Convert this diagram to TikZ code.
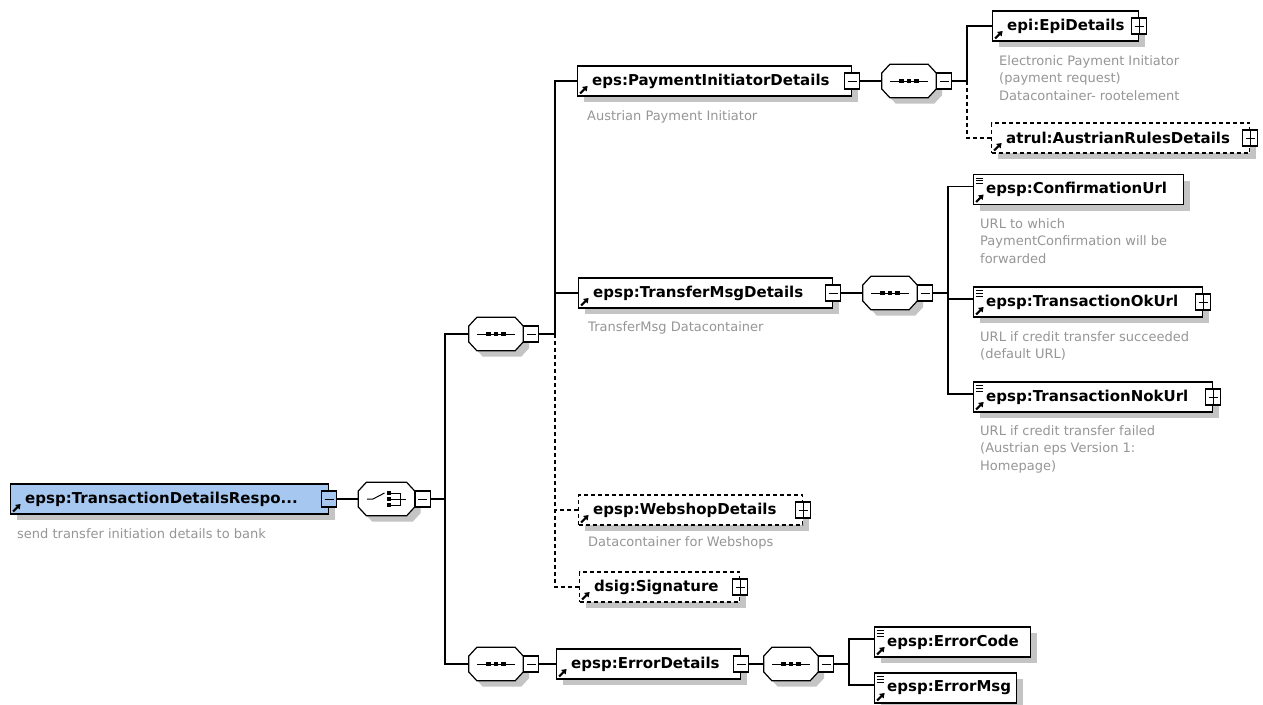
\documentclass[tikz,border=0pt]{standalone}
\usepackage{fontspec}
\setmainfont{DejaVu Sans}
\usetikzlibrary{shadows,arrows.meta}

\definecolor{rootblue}{RGB}{166,200,240}
\definecolor{shadowc}{RGB}{196,196,196}
\definecolor{desctext}{RGB}{150,150,150}

% small icons drawn inside element boxes
\newcommand\refglyph{\draw[solid, line width=2pt, -{Triangle[length=4.5pt,width=6pt]}]
  ([shift={(2.5pt,2.5pt)}]path picture bounding box.south west) -- ++(7.5pt,7.5pt);}
\newcommand\simpleglyph{\draw[solid, line width=0.9pt]
  ([shift={(2pt,-3.5pt)}]path picture bounding box.north west) -- ++(7pt,0pt)
  ++(-7pt,-2.8pt) -- ++(7pt,0pt) ++(-7pt,-2.8pt) -- ++(7pt,0pt);}

% compositor outline and glyphs
\newcommand\octpath[1]{([xshift=8pt]#1.north west) -- ([xshift=-8pt]#1.north east)
  -- ([yshift=8pt]#1.east) -- ([yshift=-8pt]#1.east) -- ([xshift=-8pt]#1.south east)
  -- ([xshift=8pt]#1.south west) -- ([yshift=-8pt]#1.west) -- ([yshift=8pt]#1.west) -- cycle}
\newcommand\octagon[1]{%
  \begin{scope}[transform canvas={shift={(6pt,-6pt)}}]
    \fill[shadowc] \octpath{#1};
  \end{scope}
  \draw[line width=1.2pt, fill=white] \octpath{#1};}
\newcommand\seqglyph[1]{%
  \draw[line width=1pt] ([xshift=-19pt]#1.center) -- ([xshift=19pt]#1.center);
  \foreach \dx in {-7.5,0,7.5}
    \fill ([xshift=\dx pt]#1.center) +(-2.3pt,-2.3pt) rectangle +(2.3pt,2.3pt);}
\newcommand\choiceglyph[1]{%
  \draw[line width=1pt] ([xshift=-19.5pt]#1.center) -- ([xshift=-13.5pt]#1.center)
    -- ([shift={(-2pt,6pt)}]#1.center);
  \foreach \dy in {-6,0,6} {
    \fill ([shift={(2.7pt,\dy pt)}]#1.center) +(-1.9pt,-1.9pt) rectangle +(1.9pt,1.9pt);
    \draw[line width=1pt] ([shift={(4.5pt,\dy pt)}]#1.center) -- ([shift={(13.5pt,\dy pt)}]#1.center);}
  \draw[line width=1pt] ([shift={(13.5pt,-6.5pt)}]#1.center) -- ([shift={(13.5pt,6.5pt)}]#1.center);
  \draw[line width=1pt] ([xshift=13.5pt]#1.center) -- ([xshift=19.5pt]#1.center);}

\tikzset{
  shade6/.style={drop shadow={shadow xshift=6pt, shadow yshift=-6pt, opacity=1, fill=shadowc}},
  elem/.style={draw=black, line width=1.2pt, fill=white, minimum height=30pt,
    inner sep=0pt, anchor=west, shade6, path picture={\refglyph}},
  rootelem/.style={elem, fill=rootblue},
  optelem/.style={elem, dash pattern=on 4pt off 3pt},
  simpleelem/.style={elem, path picture={\refglyph\simpleglyph}},
  comp/.style={rectangle, draw=none, minimum width=54pt, minimum height=33pt, inner sep=0pt},
  pm/.style={draw=black, line width=1.1pt, fill=white, minimum width=15pt,
    minimum height=16pt, inner sep=0pt},
  minusbox/.style={pm, path picture={\draw[line width=1pt]
    ([xshift=-4.5pt]path picture bounding box.center) -- ([xshift=4.5pt]path picture bounding box.center);}},
  plusbox/.style={pm, path picture={\draw[line width=1pt]
    ([xshift=-4.5pt]path picture bounding box.center) -- ([xshift=4.5pt]path picture bounding box.center)
    (path picture bounding box.north) -- (path picture bounding box.south);}},
  lbl/.style={font=\bfseries\fontsize{15}{18}\selectfont, inner sep=0pt, anchor=west},
  desc/.style={font=\fontsize{13}{17.5}\selectfont, text=desctext, inner sep=0pt,
    anchor=west, align=left},
  conn/.style={draw=black, line width=1.2pt},
  optconn/.style={conn, dash pattern=on 4pt off 3pt},
}

\begin{document}
\begin{tikzpicture}[x=1pt,y=-1pt]
\useasboundingbox (0,0) rectangle (1263,704);
\fill[white] (0,0) rectangle (1263,704);

% element boxes
\node[rootelem, minimum width=318pt] (root) at (10,499) {};
\node[elem, minimum width=274pt] (pid) at (577,81) {};
\node[elem, minimum width=146pt] (epi) at (992,26) {};
\node[optelem, minimum width=258pt] (atrul) at (991,138) {};
\node[elem, minimum width=254pt] (tmsg) at (578,293) {};
\node[simpleelem, minimum width=210pt] (conf) at (973,189.5) {};
\node[simpleelem, minimum width=229pt] (okurl) at (973,302) {};
\node[simpleelem, minimum width=239pt] (nokurl) at (973,397) {};
\node[optelem, minimum width=224pt] (web) at (578,510) {};
\node[optelem, minimum width=160pt] (sig) at (579,587) {};
\node[elem, minimum width=184pt] (err) at (556,664) {};
\node[simpleelem, minimum width=156pt] (ecode) at (874,642) {};
\node[simpleelem, minimum width=142pt] (emsg) at (874,688) {};

% compositors
\node[comp, minimum width=56pt] (ch) at (386.5,499) {};
\node[comp] (s1) at (496,334) {};
\node[comp] (s3) at (909,81) {};
\node[comp] (s4) at (890,293) {};
\node[comp] (s2) at (496,664) {};
\node[comp] (s5) at (791,664) {};
\octagon{ch} \octagon{s1} \octagon{s3} \octagon{s4} \octagon{s2} \octagon{s5}
\choiceglyph{ch}
\seqglyph{s1} \seqglyph{s3} \seqglyph{s4} \seqglyph{s2} \seqglyph{s5}

% expand / collapse boxes
\node[minusbox, fill=rootblue] (root-m) at (root.east) {};
\node[minusbox] (pid-m) at (pid.east) {};
\node[plusbox] (epi-m) at (epi.east) {};
\node[plusbox] (atrul-m) at (atrul.east) {};
\node[minusbox] (tmsg-m) at (tmsg.east) {};
\node[plusbox] (okurl-m) at (okurl.east) {};
\node[plusbox] (nokurl-m) at (nokurl.east) {};
\node[plusbox] (web-m) at (web.east) {};
\node[plusbox] (sig-m) at (sig.east) {};
\node[minusbox] (err-m) at (err.east) {};
\node[minusbox, anchor=west] (ch-m) at (ch.east) {};
\node[minusbox, anchor=west] (s1-m) at (s1.east) {};
\node[minusbox, anchor=west] (s3-m) at (s3.east) {};
\node[minusbox, anchor=west] (s4-m) at (s4.east) {};
\node[minusbox, anchor=west] (s2-m) at (s2.east) {};
\node[minusbox, anchor=west] (s5-m) at (s5.east) {};

% element names
\node[lbl] (root-t) at ([xshift=15pt]root.west) {epsp:TransactionDetailsRespo...};
\node[lbl] (pid-t) at ([xshift=15pt]pid.west) {eps:PaymentInitiatorDetails};
\node[lbl] (epi-t) at ([xshift=15pt]epi.west) {epi:EpiDetails};
\node[lbl] (atrul-t) at ([xshift=15pt]atrul.west) {atrul:AustrianRulesDetails};
\node[lbl] (tmsg-t) at ([xshift=15pt]tmsg.west) {epsp:TransferMsgDetails};
\node[lbl] (conf-t) at ([xshift=13pt]conf.west) {epsp:ConfirmationUrl};
\node[lbl] (okurl-t) at ([xshift=13pt]okurl.west) {epsp:TransactionOkUrl};
\node[lbl] (nokurl-t) at ([xshift=13pt]nokurl.west) {epsp:TransactionNokUrl};
\node[lbl] (web-t) at ([xshift=15pt]web.west) {epsp:WebshopDetails};
\node[lbl] (sig-t) at ([xshift=15pt]sig.west) {dsig:Signature};
\node[lbl] (err-t) at ([xshift=15pt]err.west) {epsp:ErrorDetails};
\node[lbl] (ecode-t) at ([xshift=13pt]ecode.west) {epsp:ErrorCode};
\node[lbl] (emsg-t) at ([xshift=13pt]emsg.west) {epsp:ErrorMsg};

% annotations
\node[desc] (root-d) at (17,534) {send transfer initiation details to bank};
\node[desc] (pid-d) at (587,117) {Austrian Payment Initiator};
\node[desc] (epi-d) at (999,78) {Electronic Payment Initiator\\(payment request)\\Datacontainer- rootelement};
\node[desc] (tmsg-d) at (588,328) {TransferMsg Datacontainer};
\node[desc] (conf-d) at (980,241) {URL to which\\PaymentConfirmation will be\\forwarded};
\node[desc] (okurl-d) at (980,346) {URL if credit transfer succeeded\\(default URL)};
\node[desc] (nokurl-d) at (980,449) {URL if credit transfer failed\\(Austrian eps Version 1:\\Homepage)};
\node[desc] (web-d) at (588,543) {Datacontainer for Webshops};

% connectors
\coordinate (j1) at (445,499);
\coordinate (j2) at (555,334);
\coordinate (j3) at (967,81);
\coordinate (j4) at (948,293);
\coordinate (j5) at (849,664);
\coordinate (conf-in) at ([yshift=3pt]conf.west);
\coordinate (okurl-in) at ([yshift=3pt]okurl.west);
\coordinate (nokurl-in) at ([yshift=3pt]nokurl.west);
\coordinate (ecode-in) at ([yshift=3pt]ecode.west);
\coordinate (emsg-in) at ([yshift=3pt]emsg.west);

\draw[conn] (root-m) -- (ch);
\draw[conn] (ch-m) -- (j1);
\draw[conn] (s1) -| (j1) |- (s2);

\draw[conn] (s1-m) -- (j2);
\draw[conn] (pid) -| (j2);
\draw[conn] (tmsg) -- (tmsg -| j2);
\draw[optconn] (j2) |- (sig);
\draw[optconn] (web) -- (web -| j2);

\draw[conn] (pid-m) -- (s3);
\draw[conn] (s3-m) -- (j3);
\draw[conn] (epi) -| (j3);
\draw[optconn] (j3) |- (atrul);

\draw[conn] (tmsg-m) -- (s4);
\draw[conn] (s4-m) -- (j4);
\draw[conn] (conf-in) -| (j4) |- (nokurl-in);
\draw[conn] (okurl-in) -- (okurl-in -| j4);

\draw[conn] (s2-m) -- (err);
\draw[conn] (err-m) -- (s5);
\draw[conn] (s5-m) -- (j5);
\draw[conn] (ecode-in) -| (j5) |- (emsg-in);
\end{tikzpicture}
\end{document}
